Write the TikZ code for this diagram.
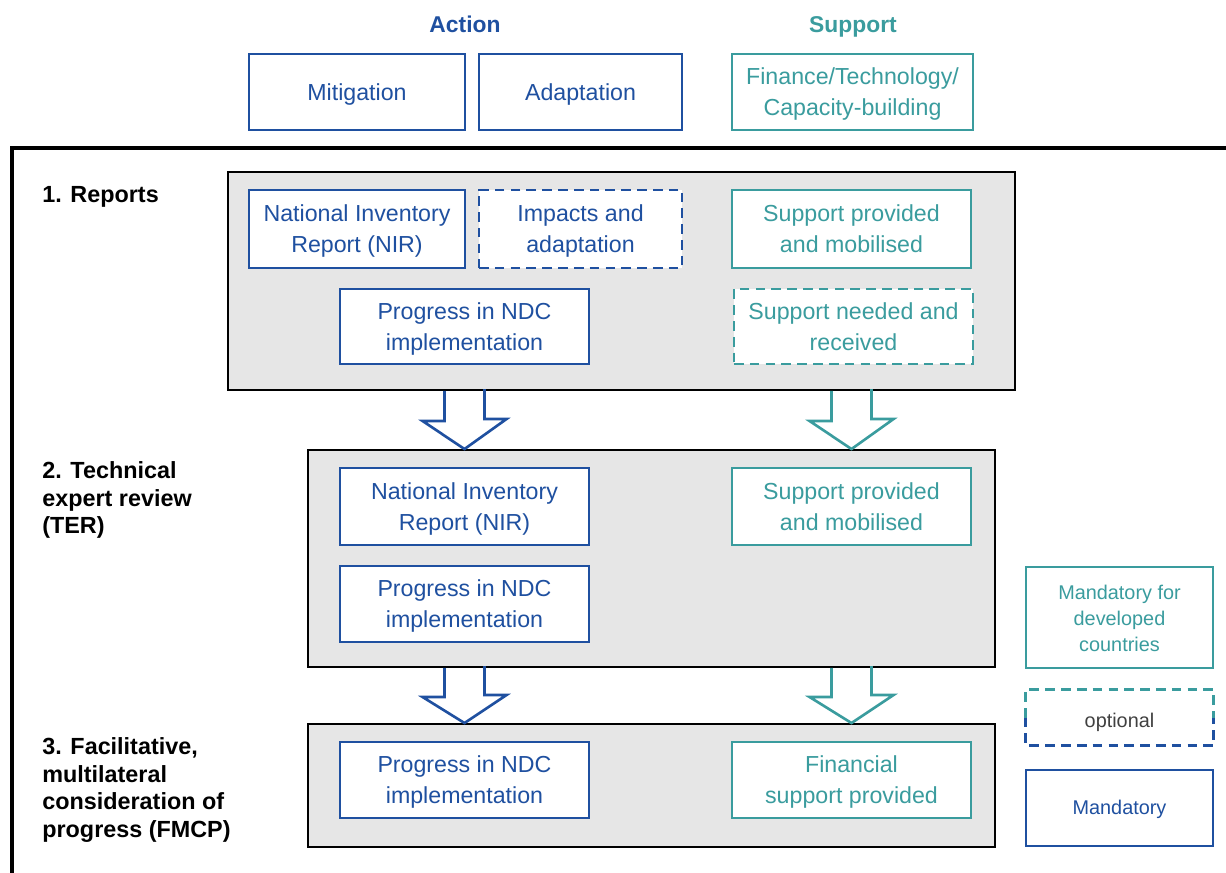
\documentclass[tikz,border=0pt]{standalone}
\usepackage{fontspec}
\setmainfont{Liberation Sans}
\usepackage{tikz}
\usetikzlibrary{positioning}
\definecolor{actblue}{RGB}{31,80,160}
\definecolor{supteal}{RGB}{58,156,158}
\definecolor{panelgrey}{RGB}{230,230,230}
\definecolor{legtext}{RGB}{64,64,64}
\newcommand\lift[1][0.93em]{\rule{0pt}{#1}}

\begin{document}
\begin{tikzpicture}[x=0.02cm,y=-0.02cm,line join=miter,
  sz/.style 2 args={minimum width=#1*0.02cm,minimum height=#2*0.02cm},
  pptline/.style={execute at begin node={\rule{0pt}{0.905em}},
    execute at end node={\rule[-0.212em]{0pt}{0pt}}},
  box/.style={draw,fill=white,line width=1.6pt,align=center,inner sep=0pt,pptline,
    font=\fontsize{13.2}{17.6}\selectfont},
  actbox/.style={box,draw=actblue,text=actblue},
  supbox/.style={box,draw=supteal,text=supteal},
  optdash/.style={dash pattern=on 5.5pt off 3.5pt},
  legbox/.style={align=center,inner sep=0pt,font=\fontsize{11.3}{15}\selectfont},
  panel/.style={draw=black,fill=panelgrey,line width=1.1pt,inner sep=0pt},
  head/.style={font=\bfseries\fontsize{13}{15.6}\selectfont,inner sep=0pt,anchor=base},
  lab/.style={font=\bfseries\fontsize{13.3}{15.6}\selectfont,align=left,inner sep=0pt,anchor=north west},
  blockarr/.style={draw=#1,line width=1.5pt}]
\useasboundingbox (0,0) rectangle (1226,872);

% headings and top row
\node[head,text=actblue] (action) at (465,32.5) {Action};
\node[head,text=supteal] (support) at (853,32.5) {Support};
\node[actbox,sz={216}{76}] (mitig) at (357,92) {Mitigation};
\node[actbox,sz={203}{76}] (adapt) at (580.5,92) {Adaptation};
\node[supbox,sz={241}{76}] (finance) at (852.5,92) {\lift Finance/Technology/\\Capacity-building};

% frame
\draw[line width=2.3pt] (12,880) -- (12,148) -- (1230,148);

% step labels
\node[lab] (lreports) at (42,186) {1. Reports};
\node[lab] (lreview) at (42,461.5) {2. Technical\\expert review\\(TER)};
\node[lab] (lfmcp) at (42,737.5) {3. Facilitative,\\multilateral\\consideration of\\progress (FMCP)};

% 1. reports
\node[panel,sz={787}{218}] (reports) at (621.5,281) {};
\node[actbox,sz={216}{78}] (nir1) at (357,229) {\lift National Inventory\\Report (NIR)};
\node[actbox,sz={203}{78},optdash] (impacts) at (580.5,229) {\lift Impacts and\\adaptation};
\node[supbox,sz={239}{78}] (supprov1) at (851.5,229) {\lift Support provided\\and mobilised};
\node[actbox,sz={249}{75}] (prog1) at (464.5,326.5) {\lift Progress in NDC\\implementation};
\node[supbox,sz={239}{75},optdash] (supneed) at (853.5,326.5) {\lift Support needed and\\received};

% 2. technical expert review
\node[panel,sz={687}{217}] (review) at (651.5,558.5) {};
\node[actbox,sz={249}{77}] (nir2) at (464.5,506.5) {\lift National Inventory\\Report (NIR)};
\node[supbox,sz={239}{77}] (supprov2) at (851.5,506.5) {\lift Support provided\\and mobilised};
\node[actbox,sz={249}{76}] (prog2) at (464.5,604) {\lift Progress in NDC\\implementation};

% 3. FMCP
\node[panel,sz={687}{123}] (fmcp) at (651.5,785.5) {};
\node[actbox,sz={249}{76}] (prog3) at (464.5,780) {\lift Progress in NDC\\implementation};
\node[supbox,sz={239}{76}] (finsup) at (851.5,780) {\lift Financial\\support provided};

% block arrows
\draw[blockarr=actblue] (reports.south -| prog1) ++(-20,0) -- ++(0,30) -- ++(-22,0)
  -- (review.north -| prog1) -- ++(42,-30) -- ++(-22,0) -- ++(0,-30);
\draw[blockarr=supteal] (reports.south -| supprov1) ++(-20,0) -- ++(0,30) -- ++(-22,0)
  -- (review.north -| supprov1) -- ++(42,-30) -- ++(-22,0) -- ++(0,-30);
\draw[blockarr=actblue] (review.south -| prog2) ++(-20,0) -- ++(0,29) -- ++(-22,0)
  -- (fmcp.north -| prog2) -- ++(42,-28) -- ++(-22,0) -- ++(0,-29);
\draw[blockarr=supteal] (review.south -| supprov2) ++(-20,0) -- ++(0,29) -- ++(-22,0)
  -- (fmcp.north -| supprov2) -- ++(42,-28) -- ++(-22,0) -- ++(0,-29);

% legend
\node[supbox,legbox,sz={187}{101}] (legdev) at (1119.5,617.5) {\lift[1.03em]Mandatory for\\developed\\countries};
\node[sz={187}{55},inner sep=0pt] (legopt) at (1119.5,717.5) {};
\node[legbox,text=legtext] (optlabel) at ([yshift=-0.1cm]legopt.center) {optional};
\draw[supteal,line width=1.6pt,optdash] (legopt.west) -- (legopt.north west) -- (legopt.north east) -- (legopt.east);
\draw[actblue,line width=1.6pt,optdash] (legopt.west) -- (legopt.south west) -- (legopt.south east) -- (legopt.east);
\node[actbox,legbox,sz={187}{76}] (legmand) at (1119.5,808) {Mandatory};
\end{tikzpicture}
\end{document}
